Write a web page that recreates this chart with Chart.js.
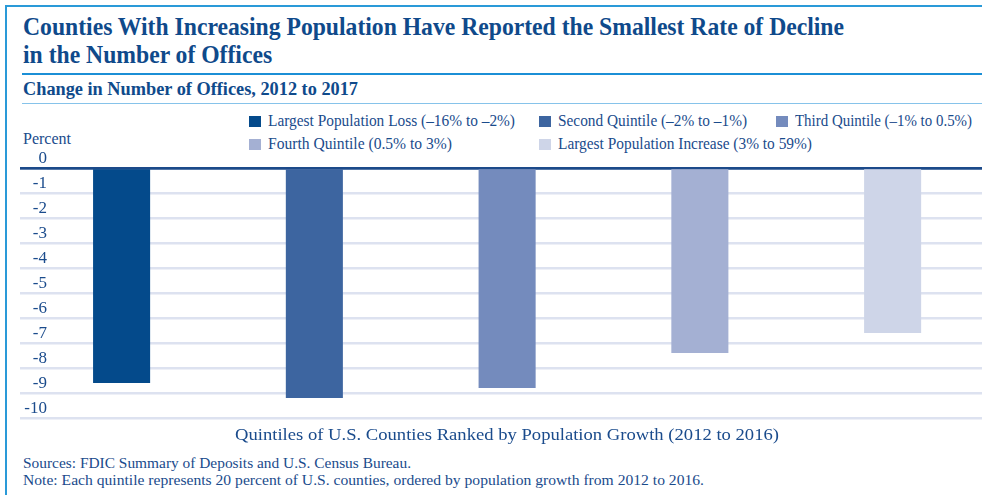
<!DOCTYPE html>
<html>
<head>
<meta charset="utf-8">
<script src="https://cdn.jsdelivr.net/npm/chart.js@4.4.1/dist/chart.umd.min.js"></script>
<style>
  html, body { margin: 0; padding: 0; background: #ffffff; }
  body { width: 982px; height: 495px; overflow: hidden; position: relative; font-family: "Liberation Serif", "Times New Roman", serif; color: #1a4b8c; }
  .abs { position: absolute; white-space: nowrap; }
  .fit { display: inline-block; transform-origin: 0 50%; }
  #frameTop { position: absolute; left: 5px; top: 5px; width: 1000px; height: 2px; background: #2a9ad8; }
  #frameLeft { position: absolute; left: 5px; top: 5px; width: 2px; height: 500px; background: #2a9ad8; }
  #rule1 { position: absolute; left: 22px; top: 73px; width: 1000px; height: 2px; background: #1b8fd6; }
  #rule2 { position: absolute; left: 22px; top: 103px; width: 1000px; height: 1px; background: #86c3ea; }
  .title { font-weight: bold; font-size: 25px; line-height: 25px; color: #0f4a8b; }
  .subtitle { font-weight: bold; font-size: 18px; line-height: 18px; color: #0f4a8b; }
  .leg { font-size: 16px; line-height: 16px; }
  .mark { position: absolute; width: 12px; height: 11px; }
  .foot { font-size: 15px; line-height: 15px; }
  .axt { font-size: 17px; line-height: 17px; }
  #chartWrap { position: absolute; left: 0; top: 150px; width: 990px; height: 280px; }
</style>
</head>
<body>
<div id="frameTop"></div>
<div id="frameLeft"></div>
<div class="abs title" style="left:23px;top:14px;"><span class="fit" id="t1" data-w="821">Counties With Increasing Population Have Reported the Smallest Rate of Decline</span></div>
<div class="abs title" style="left:23px;top:42px;"><span class="fit" id="t2">in the Number of Offices</span></div>
<div id="rule1"></div>
<div class="abs subtitle" style="left:23px;top:80px;"><span class="fit" data-w="335">Change in Number of Offices, 2012 to 2017</span></div>
<div id="rule2"></div>
<div id="legend"></div>
<div class="abs leg" style="left:23px;top:131px;">Percent</div>
<div id="chartWrap"><canvas id="c" width="990" height="280"></canvas></div>
<div class="abs axt" id="xTitle" style="left:235px;top:426px;"><span class="fit" data-w="544" id="xTitleText"></span></div>
<div class="abs foot" style="left:23px;top:456px;"><span class="fit" data-w="388">Sources: FDIC Summary of Deposits and U.S. Census Bureau.</span></div>
<div class="abs foot" style="left:23px;top:473px;"><span class="fit" data-w="681">Note: Each quintile represents 20 percent of U.S. counties, ordered by population growth from 2012 to 2016.</span></div>

<script>
// ---- data ----
const categories = [
  'Largest Population Loss (\u201316% to \u20132%)',
  'Second Quintile (\u20132% to \u20131%)',
  'Third Quintile (\u20131% to 0.5%)',
  'Fourth Quintile (0.5% to 3%)',
  'Largest Population Increase (3% to 59%)'
];
const officeChange = [-8.6, -9.2, -8.8, -7.4, -6.6];
const yTickValues = [0, -1, -2, -3, -4, -5, -6, -7, -8, -9, -10];
const barColors = ['#044a8b', '#3d65a0', '#748bbd', '#a4b0d3', '#ced5e8'];
const xAxisTitle = 'Quintiles of U.S. Counties Ranked by Population Growth (2012 to 2016)';

document.getElementById('xTitleText').textContent = xAxisTitle;

// ---- legend (HTML) ----
const legendPos = [
  {x: 249, y: 113, w: 247}, {x: 539, y: 113, w: 189}, {x: 776, y: 113, w: 177},
  {x: 249, y: 136, w: 184}, {x: 539, y: 136, w: 254}
];
const legendEl = document.getElementById('legend');
categories.forEach((label, i) => {
  const p = legendPos[i];
  const m = document.createElement('div');
  m.className = 'mark';
  m.style.left = p.x + 'px';
  m.style.top = (p.y + 3) + 'px';
  m.style.background = barColors[i];
  legendEl.appendChild(m);
  const t = document.createElement('div');
  t.className = 'abs leg';
  t.style.left = (p.x + 19) + 'px';
  t.style.top = p.y + 'px';
  const s = document.createElement('span');
  s.className = 'fit';
  s.dataset.w = p.w;
  s.textContent = label;
  t.appendChild(s);
  legendEl.appendChild(t);
});

// ---- fit condensed text widths ----
document.querySelectorAll('.fit[data-w]').forEach(el => {
  const nat = el.getBoundingClientRect().width;
  const k = parseFloat(el.dataset.w) / nat;
  el.style.transform = 'scaleX(' + k + ')';
  if (el.id === 't1') document.getElementById('t2').style.transform = 'scaleX(' + k + ')';
});

// ---- chart ----
const textColor = '#1a4b8c';
new Chart(document.getElementById('c'), {
  type: 'bar',
  data: {
    datasets: [{
      data: officeChange.map((v, i) => ({ x: i, y: v })),
      backgroundColor: barColors,
      borderWidth: 0,
      barPercentage: 0.296,
      categoryPercentage: 1
    }]
  },
  options: {
    responsive: false,
    animation: false,
    devicePixelRatio: 1,
    layout: { padding: { top: 18, right: 1, left: 0, bottom: 12 } },
    plugins: { legend: { display: false }, tooltip: { enabled: false } },
    scales: {
      x: {
        type: 'linear',
        min: -0.387,
        max: 4.5,
        offset: false,
        display: false,
        afterBuildTicks: s => { s.ticks = categories.map((_, i) => ({ value: i })); }
      },
      y: {
        min: -10,
        max: 0,
        afterBuildTicks: s => { s.ticks = yTickValues.map(v => ({ value: v })); },
        border: { display: false },
        grid: {
          drawTicks: true,
          tickLength: 27,
          color: c => (c.tick && c.tick.value === 0) ? '#1c4a8a' : '#dde2f0',
          lineWidth: c => (c.tick && c.tick.value === 0) ? 2.7 : 2.5
        },
        ticks: {
          color: textColor,
          font: { family: 'Liberation Serif', size: 17 },
          padding: -27,
          labelOffset: -9,
          autoSkip: false,
          callback: v => String(v)
        },
        afterFit: s => { s.width = 47; }
      }
    }
  }
});
</script>
</body>
</html>
